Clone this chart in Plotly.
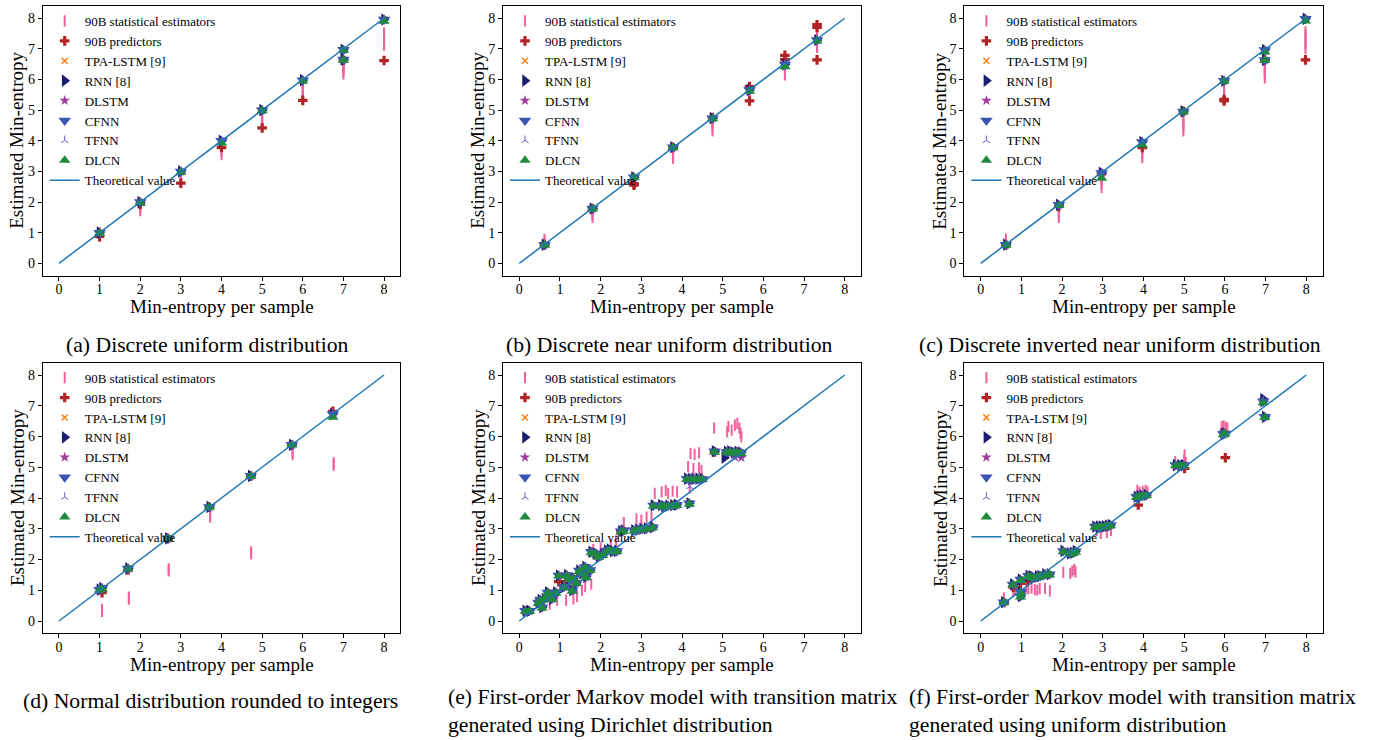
import plotly.graph_objects as go

FONT = "Liberation Serif"
W, H = 1383, 740

# ---------------- data ----------------
TICKS = [0, 1, 2, 3, 4, 5, 6, 7, 8]
THEORY_X = [0, 8]
THEORY_Y = [0, 8]

# (a) Discrete uniform distribution
X_A = [1, 2, 3, 4, 5, 6, 7, 7, 8]
NN_A = [1.0, 2.0, 3.0, 4.0, 5.0, 5.98, 6.97, 6.65, 7.96]
DLCN_A = [0.98, 1.97, 2.97, 3.93, 4.98, 5.95, 6.95, 6.63, 7.9]
PRED_X_A = [1, 2, 3, 4, 5, 6, 7, 8]
PRED_Y_A = [0.88, 1.93, 2.62, 3.78, 4.42, 5.32, 6.63, 6.62]
STAT_X_A = [1, 1, 1, 2, 2, 2, 2, 3, 3, 3, 3, 4, 4, 4, 4, 5, 5, 5, 5, 5, 6, 6, 6, 6, 6, 7, 7, 7, 7, 7, 8, 8, 8, 8, 8]
STAT_Y_A = [1.0, 0.94, 0.88, 1.96, 1.87, 1.79, 1.72, 2.95, 2.86, 2.78, 2.71, 3.94, 3.8, 3.67, 3.55,
            4.88, 4.77, 4.66, 4.56, 4.47, 5.9, 5.76, 5.62, 5.5, 5.4, 6.55, 6.45, 6.35, 6.25, 6.18,
            7.52, 7.42, 7.32, 7.22, 7.12]

# (b) Discrete near uniform distribution
X_B = [0.62, 1.8, 2.82, 3.78, 4.75, 5.66, 6.53, 7.32]
NN_B = [0.61, 1.79, 2.81, 3.79, 4.74, 5.66, 6.49, 7.29]
DLCN_B = [0.59, 1.77, 2.79, 3.77, 4.72, 5.62, 6.42, 7.26]
PRED_X_B = [0.62, 1.8, 2.82, 2.82, 3.78, 4.75, 5.66, 5.66, 6.53, 6.53, 7.32, 7.32, 7.32]
PRED_Y_B = [0.6, 1.78, 2.6, 2.55, 3.78, 4.76, 5.77, 5.3, 6.79, 6.65, 7.79, 7.7, 6.64]
STAT_X_B = [0.62, 0.62, 0.62, 1.8, 1.8, 1.8, 1.8, 2.82, 2.82, 3.78, 3.78, 3.78, 3.78, 4.75, 4.75, 4.75, 4.75,
            5.66, 5.66, 5.66, 5.66, 6.53, 6.53, 6.53, 6.53, 7.32, 7.32, 7.32, 7.32]
STAT_Y_B = [0.78, 0.7, 0.62, 1.75, 1.66, 1.58, 1.5, 2.78, 2.7, 3.72, 3.62, 3.52, 3.43, 4.7, 4.58, 4.45, 4.32,
            5.55, 5.47, 5.4, 5.33, 6.42, 6.32, 6.23, 6.15, 7.45, 7.32, 7.18, 7.05]

# (c) Discrete inverted near uniform distribution
X_C = [0.62, 1.92, 2.97, 3.97, 4.98, 5.98, 6.98, 6.98, 7.98]
NN_C = [0.61, 1.91, 2.95, 3.96, 4.96, 5.96, 6.96, 6.64, 7.98]
DLCN_C = [0.59, 1.89, 2.78, 3.86, 4.94, 5.94, 6.9, 6.62, 7.91]
PRED_X_C = [0.62, 1.92, 2.97, 3.97, 4.98, 5.98, 5.98, 6.98, 7.98]
PRED_Y_C = [0.6, 1.86, 2.92, 3.78, 4.96, 5.3, 5.35, 6.65, 6.64]
STAT_X_C = [0.62, 0.62, 1.92, 1.92, 1.92, 1.92, 2.97, 2.97, 2.97, 2.97, 3.97, 3.97, 3.97, 3.97,
            4.98, 4.98, 4.98, 4.98, 5.98, 5.98, 5.98, 5.98, 6.98, 6.98, 6.98, 6.98, 6.98,
            7.98, 7.98, 7.98, 7.98, 7.98]
STAT_Y_C = [0.78, 0.7, 1.85, 1.72, 1.6, 1.5, 2.85, 2.72, 2.6, 2.48, 3.85, 3.7, 3.57, 3.45,
            4.73, 4.6, 4.46, 4.32, 5.7, 5.58, 5.47, 5.39, 6.53, 6.42, 6.3, 6.18, 6.05,
            7.56, 7.44, 7.3, 7.16, 7.02]

# (d) Normal distribution rounded to integers
X_D = [1.0, 1.06, 1.7, 2.68, 3.7, 4.72, 5.73, 6.74]
NN_D = [1.02, 1.07, 1.71, 2.69, 3.71, 4.72, 5.73, 6.73]
DLCN_D = [1.0, 1.04, 1.69, 2.68, 3.7, 4.71, 5.72, 6.63]
PRED_X_D = [1.06, 1.7, 2.68, 3.7, 4.72, 5.73, 6.74]
PRED_Y_D = [0.92, 1.66, 2.68, 3.7, 4.71, 5.72, 6.82]
STAT_X_D = [1.06, 1.06, 1.72, 1.72, 2.7, 2.7, 3.72, 3.72, 4.73, 4.73, 5.75, 5.75, 6.76, 6.76]
STAT_Y_D = [0.38, 0.31, 0.78, 0.71, 1.7, 1.63, 3.44, 3.38, 2.25, 2.18, 5.48, 5.41, 5.14, 5.07]

# (e) First-order Markov model, Dirichlet transition matrix
X_E = [0.15, 0.25, 0.47, 0.52, 0.56, 0.62, 0.7, 0.75, 0.8, 0.9, 0.97, 1.1, 1.17, 1.22, 1.3, 1.33, 1.4, 1.47,
       1.54, 1.62, 1.64, 1.74, 1.77, 1.87, 1.95, 2.05, 2.15, 2.22, 2.3, 2.4, 2.5, 2.56, 2.82, 2.92, 3.02,
       3.13, 3.28, 3.3, 3.48, 3.56, 3.66, 3.78, 3.87, 4.18, 4.12, 4.22, 4.3, 4.4, 4.5, 4.8, 5.1, 5.18,
       5.27, 5.36, 5.45]
NN_E = [0.33, 0.33, 0.6, 0.68, 0.45, 0.72, 0.93, 0.8, 0.72, 0.93, 1.48, 1.11, 1.49, 1.38, 1.0, 1.4, 1.24,
        1.64, 1.56, 1.76, 1.44, 1.66, 2.25, 2.2, 2.09, 2.16, 2.29, 2.32, 2.27, 2.28, 2.92, 2.95, 2.95, 2.97,
        3.0, 3.01, 3.05, 3.76, 3.77, 3.73, 3.75, 3.77, 3.78, 3.83, 4.63, 4.62, 4.62, 4.63, 4.62, 5.52, 5.5,
        5.52, 5.48, 5.5, 5.48]
DLCN_E = [0.31, 0.31, 0.57, 0.66, 0.42, 0.7, 0.9, 0.78, 0.7, 0.9, 1.46, 1.08, 1.46, 1.36, 0.97, 1.37, 1.22,
          1.61, 1.53, 1.73, 1.41, 1.64, 2.22, 2.17, 2.07, 2.13, 2.26, 2.29, 2.25, 2.26, 2.89, 2.92, 2.93,
          2.95, 2.98, 2.99, 3.03, 3.73, 3.74, 3.71, 3.72, 3.74, 3.76, 3.8, 4.6, 4.6, 4.59, 4.6, 4.6, 5.49,
          5.47, 5.49, 5.46, 5.47, 5.45]
PRED_X_E = [0.97, 1.17, 0.2, 2.5, 4.8]
PRED_Y_E = [1.28, 1.28, 0.33, 2.92, 5.5]
STAT_X_E = [0.55, 0.75, 0.93, 1.0, 1.15, 1.28, 1.33, 1.42, 1.54, 1.62, 1.77, 1.82, 2.0, 2.25, 2.38, 2.57,
            2.88, 3.0, 3.13, 3.25, 3.33, 3.5, 3.6, 3.66, 3.77, 3.88, 4.19, 4.15, 4.28, 4.42, 4.48, 4.21,
            4.31, 4.42, 4.79, 5.11, 5.14, 5.22, 5.3, 5.36, 5.41, 5.46, 5.44]
STAT_Y_E = [0.55, 0.55, 0.68, 1.18, 0.68, 1.15, 0.72, 0.8, 1.0, 1.12, 1.2, 2.32, 2.38, 2.47, 2.6, 3.2,
            3.32, 3.28, 3.38, 3.38, 4.15, 4.2, 4.25, 4.15, 4.22, 4.2, 4.32, 5.02, 4.96, 4.98, 4.9, 5.45,
            5.42, 5.47, 6.27, 6.16, 6.32, 6.21, 6.37, 6.43, 6.27, 5.99, 6.1]
RNN_OUT_X_E = [5.04]
RNN_OUT_Y_E = [5.31]
DLSTM_OUT_X_E = [5.3, 5.46]
DLSTM_OUT_Y_E = [5.33, 5.31]
TFNN_OUT_X_E = [4.19]
TFNN_OUT_Y_E = [4.37]

# (f) First-order Markov model, uniform transition matrix
X_F = [0.57, 0.79, 0.98, 0.98, 0.98, 1.17, 1.25, 1.31, 1.4, 1.46, 1.58, 1.69, 2.03, 2.19, 2.27, 2.33,
       2.81, 2.9, 2.97, 3.05, 3.12, 3.19, 3.83, 3.9, 3.97, 4.07, 4.79, 4.9, 4.99, 5.96, 6.0, 6.94, 6.98]
NN_F = [0.61, 1.19, 1.35, 0.95, 0.81, 1.47, 1.45, 1.41, 1.45, 1.46, 1.52, 1.52, 2.28, 2.2, 2.22, 2.27,
        3.07, 3.07, 3.07, 3.08, 3.1, 3.12, 4.04, 4.06, 4.08, 4.1, 5.07, 5.07, 5.07, 6.08, 6.1, 7.15, 6.64]
DLCN_F = [0.59, 1.17, 1.32, 0.92, 0.78, 1.45, 1.42, 1.39, 1.43, 1.44, 1.5, 1.5, 2.25, 2.17, 2.2, 2.24,
          3.05, 3.05, 3.05, 3.06, 3.08, 3.1, 4.02, 4.04, 4.06, 4.08, 5.05, 5.05, 5.05, 6.06, 6.08, 7.1, 6.62]
PRED_X_F = [0.8, 0.98, 1.15, 3.87, 5.01, 6.01, 0.57, 2.97]
PRED_Y_F = [1.1, 1.22, 1.3, 3.77, 4.96, 5.31, 0.6, 3.05]
STAT_X_F = [0.57, 0.8, 0.85, 1.12, 1.17, 1.25, 1.33, 1.39, 1.45, 1.58, 1.7, 2.03, 2.2, 2.25, 2.3, 2.33,
            2.85, 2.95, 3.1, 3.2, 3.85, 3.9, 3.98, 4.05, 4.1, 4.78, 5.01, 5.0, 5.04, 5.92, 5.97, 6.02, 6.06]
STAT_Y_F = [0.75, 0.98, 1.04, 1.1, 1.04, 1.07, 1.02, 1.0, 1.05, 1.06, 0.98, 1.58, 1.55, 1.62, 1.68, 1.6,
            2.95, 2.85, 2.88, 2.95, 4.25, 4.18, 4.22, 4.25, 4.2, 5.18, 5.4, 5.25, 5.15, 6.32, 6.35, 6.3, 6.28]
RNN_OUT_X_F = [6.94]
RNN_OUT_Y_F = [7.22]

CAPTIONS = ["(a) Discrete uniform distribution",
            "(b) Discrete near uniform distribution",
            "(c) Discrete inverted near uniform distribution",
            "(d) Normal distribution rounded to integers",
            "(e) First-order Markov model with transition matrix<br>generated using Dirichlet distribution",
            "(f) First-order Markov model with transition matrix<br>generated using uniform distribution"]
X_TITLE = "Min-entropy per sample"
Y_TITLE = "Estimated Min-entropy"

PANELS = [
    dict(x=X_A, nn=NN_A, dl=DLCN_A, px=PRED_X_A, py=PRED_Y_A, sx=STAT_X_A, sy=STAT_Y_A, out={}),
    dict(x=X_B, nn=NN_B, dl=DLCN_B, px=PRED_X_B, py=PRED_Y_B, sx=STAT_X_B, sy=STAT_Y_B, out={}),
    dict(x=X_C, nn=NN_C, dl=DLCN_C, px=PRED_X_C, py=PRED_Y_C, sx=STAT_X_C, sy=STAT_Y_C, out={}),
    dict(x=X_D, nn=NN_D, dl=DLCN_D, px=PRED_X_D, py=PRED_Y_D, sx=STAT_X_D, sy=STAT_Y_D, out={}),
    dict(x=X_E, nn=NN_E, dl=DLCN_E, px=PRED_X_E, py=PRED_Y_E, sx=STAT_X_E, sy=STAT_Y_E,
         out={"RNN [8]": (RNN_OUT_X_E, RNN_OUT_Y_E), "DLSTM": (DLSTM_OUT_X_E, DLSTM_OUT_Y_E),
              "TFNN": (TFNN_OUT_X_E, TFNN_OUT_Y_E)}),
    dict(x=X_F, nn=NN_F, dl=DLCN_F, px=PRED_X_F, py=PRED_Y_F, sx=STAT_X_F, sy=STAT_Y_F,
         out={"RNN [8]": (RNN_OUT_X_F, RNN_OUT_Y_F)}),
]

# ---------------- styles ----------------
PINK = "#f0609c"
NN_STYLES = [
    ("TPA-LSTM [9]", dict(symbol="x-thin", size=6, color="#ff7f0e", line=dict(color="#ff7f0e", width=1.5))),
    ("RNN [8]", dict(symbol="triangle-right", size=11, color="#1c1c70", line=dict(width=0))),
    ("DLSTM", dict(symbol="star", size=8, color="#a03c9c", line=dict(width=0))),
    ("CFNN", dict(symbol="triangle-down", size=11, color="#3a55b2", line=dict(width=0))),
    ("TFNN", dict(symbol="y-up", size=6, color="#6a5acd", line=dict(color="#6a5acd", width=1))),
    ("DLCN", dict(symbol="triangle-up", size=10, color="#1f8a3f", line=dict(width=0))),
]

# layout geometry (pixels)
COLS_PX = [(42.7, 400.3), (503.0, 861.0), (964.4, 1322.6)]
ROWS_PX = [(6.0, 275.6), (362.7, 633.3)]
CAP_CX = [207, 669, 1120, 210, None, None]
CAP_LX = [None, None, None, None, 447, 908]
CAP_Y = [345, 345, 345, 701, 684, 684]
XT_Y = [306, 664]
YT_X = [17, 478, 940]
CAP_SIZE = 21.7

fig = go.Figure()
layout = dict(width=W, height=H, margin=dict(l=0, r=0, t=0, b=0),
              paper_bgcolor="white", plot_bgcolor="white",
              font=dict(family=FONT, color="black"), annotations=[])

for i, p in enumerate(PANELS):
    n = i + 1
    xa, ya = f"x{n}" if n > 1 else "x", f"y{n}" if n > 1 else "y"
    lg = "legend" if n == 1 else f"legend{n}"
    r, c = divmod(i, 3)
    common = dict(xaxis=xa, yaxis=ya, legend=lg, mode="markers", hoverinfo="skip")
    fig.add_trace(go.Scatter(x=p["sx"], y=p["sy"], name="90B statistical estimators",
                             marker=dict(symbol="line-ns", size=8, color=PINK,
                                         line=dict(color=PINK, width=2)), **common))
    fig.add_trace(go.Scatter(x=p["px"], y=p["py"], name="90B predictors",
                             marker=dict(symbol="cross", size=8, color="#b22424", line=dict(width=0)),
                             **common))
    for name, mk in NN_STYLES:
        xs = list(p["x"])
        ys = list(p["dl"] if name == "DLCN" else p["nn"])
        if name in p["out"]:
            xs += p["out"][name][0]
            ys += p["out"][name][1]
        fig.add_trace(go.Scatter(x=xs, y=ys, name=name, marker=mk, **common))
    fig.add_trace(go.Scatter(x=THEORY_X, y=THEORY_Y, name="Theoretical value", mode="lines",
                             line=dict(color="#1f77b4", width=1.5), xaxis=xa, yaxis=ya, legend=lg,
                             hoverinfo="skip"))

    x0, x1 = COLS_PX[c]
    yt, yb = ROWS_PX[r]
    axkey = "xaxis" if n == 1 else f"xaxis{n}"
    aykey = "yaxis" if n == 1 else f"yaxis{n}"
    axis_common = dict(range=[-0.4, 8.4], tickmode="array", tickvals=TICKS, ticktext=[str(t) for t in TICKS],
                       showline=True, linecolor="black", linewidth=1, mirror=True,
                       ticks="outside", ticklen=4, tickwidth=1, tickcolor="black",
                       showgrid=False, zeroline=False,
                       tickfont=dict(family=FONT, size=14, color="black"))
    layout[axkey] = dict(domain=[x0 / W, x1 / W], anchor=ya, ticklabelstandoff=-3, **axis_common)
    layout[aykey] = dict(domain=[1 - yb / H, 1 - yt / H], anchor=xa, **axis_common)
    layout[lg] = dict(x=(x0 + 2) / W, y=1 - yt / H, xanchor="left", yanchor="top",
                      bgcolor="rgba(0,0,0,0)", borderwidth=0,
                      font=dict(family=FONT, size=13, color="black"),
                      itemsizing="trace", tracegroupgap=0)

    # axis titles
    layout["annotations"].append(dict(text=X_TITLE, x=(x0 + x1) / 2 / W, y=1 - XT_Y[r] / H,
                                      xref="paper", yref="paper", showarrow=False,
                                      xanchor="center", yanchor="middle",
                                      font=dict(family=FONT, size=19, color="black")))
    layout["annotations"].append(dict(text=Y_TITLE, x=YT_X[c] / W, y=1 - (yt + yb) / 2 / H,
                                      xref="paper", yref="paper", showarrow=False, textangle=-90,
                                      xanchor="center", yanchor="middle",
                                      font=dict(family=FONT, size=19, color="black")))
    # captions
    if CAP_CX[i] is not None:
        layout["annotations"].append(dict(text=CAPTIONS[i], x=CAP_CX[i] / W, y=1 - CAP_Y[i] / H,
                                          xref="paper", yref="paper", showarrow=False,
                                          xanchor="center", yanchor="middle",
                                          font=dict(family=FONT, size=CAP_SIZE, color="black")))
    else:
        layout["annotations"].append(dict(text=CAPTIONS[i], x=CAP_LX[i] / W, y=1 - CAP_Y[i] / H,
                                          xref="paper", yref="paper", showarrow=False,
                                          xanchor="left", yanchor="top", align="left", borderpad=0,
                                          font=dict(family=FONT, size=CAP_SIZE, color="black")))

fig.update_layout(**layout)
fig.write_html("out.html")
